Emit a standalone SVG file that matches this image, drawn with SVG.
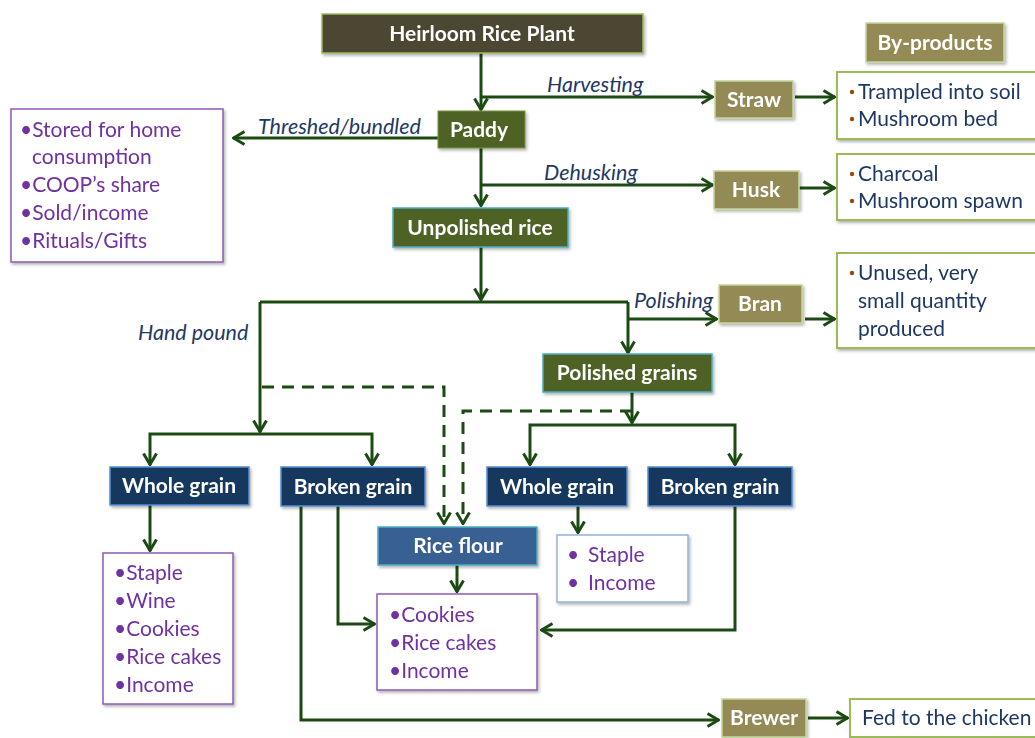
<svg xmlns="http://www.w3.org/2000/svg" width="1035" height="738" viewBox="0 0 1035 738">
<defs>
<marker id="ah" viewBox="0 0 14 16" refX="13" refY="8" markerWidth="14" markerHeight="16" markerUnits="userSpaceOnUse" orient="auto">
<path d="M1.5,1.5 L12.5,8 L1.5,14.5" fill="none" stroke="#1b4a12" stroke-width="3"/>
</marker>
<filter id="sh" x="-10%" y="-10%" width="130%" height="140%">
<feDropShadow dx="1.5" dy="2" stdDeviation="1.5" flood-color="#000" flood-opacity="0.3"/>
</filter>
</defs>
<style>
.c{fill:none;stroke:#1b4a12;stroke-width:3;marker-end:url(#ah)}
.cn{fill:none;stroke:#1b4a12;stroke-width:3}
.d{stroke-dasharray:12,8}
.n{filter:url(#sh)}
.brown{fill:#4b4631;stroke:#9bbb59;stroke-width:1.5}
.olive{fill:#4f6228;stroke:#77933c;stroke-width:1}
.olivet{fill:#4f6228;stroke:#4bacc6;stroke-width:1.5}
.khaki{fill:#948a54;stroke:#c3d69b;stroke-width:1.5}
.navy{fill:#17375e;stroke:#558ed5;stroke-width:1.5}
.flour{fill:#376092;stroke:#4bacc6;stroke-width:1.5}
.pbox{fill:#fff;stroke:#8e5bb5;stroke-width:1.5}
.gbox{fill:#fff;stroke:#9bbb59;stroke-width:2}
.bbox{fill:#fff;stroke:#95b3d7;stroke-width:1.5}
.lbl{font-family:Lato,"Liberation Sans",sans-serif;font-weight:bold;font-size:21px;fill:#fff;text-anchor:middle}
.it{font-family:Lato,"Liberation Sans",sans-serif;font-style:italic;font-size:21.5px;fill:#1f3864}
.pt{font-family:Lato,"Liberation Sans",sans-serif;font-size:21px;fill:#7030a0}
.bt{font-family:Lato,"Liberation Sans",sans-serif;font-size:21px;fill:#1f3864}
.bul{fill:#984807}
</style>

<g id="connectors">
<path class="c" d="M481,53 V110"/>
<path class="c" d="M481,97 H713"/>
<path class="c" d="M795,97 H835"/>
<path class="c" d="M438,138 H233"/>
<path class="c" d="M481,148 V206"/>
<path class="c" d="M481,185 H713"/>
<path class="c" d="M798,188 H835"/>
<path class="c" d="M481,247 V300"/>
<path class="cn" d="M260,302 H628"/>
<path class="c" d="M260,302 V432"/>
<path class="c" d="M628,302 V353"/>
<path class="c" d="M628,319 H717"/>
<path class="c" d="M805,319 H835"/>
<path class="c" d="M260,434 H150 V465"/>
<path class="c" d="M260,434 H372 V465"/>
<path class="c" d="M632,392 V423"/>
<path class="c" d="M632,425 H530 V465"/>
<path class="c" d="M632,425 H735 V465"/>
<path class="c d" d="M262,387 H444 V524"/>
<path class="c d" d="M632,411 H463 V524"/>
<path class="c" d="M150,505 V551"/>
<path class="c" d="M301,506 V720 H719"/>
<path class="c" d="M338,506 V624 H375"/>
<path class="c" d="M457,565 V592"/>
<path class="c" d="M578,506 V533"/>
<path class="c" d="M735,506 V630 H541"/>
<path class="c" d="M808,718 H848"/>
</g>

<g id="label-harvesting"><text class="it" x="547" y="92">Harvesting</text></g>
<g id="label-threshed"><text class="it" x="258" y="134">Threshed/bundled</text></g>
<g id="label-dehusking"><text class="it" x="544" y="180">Dehusking</text></g>
<g id="label-polishing"><text class="it" x="634" y="308">Polishing</text></g>
<g id="label-handpound"><text class="it" x="138" y="340">Hand pound</text></g>

<g id="plant" class="n"><rect class="brown" x="322" y="14" width="321" height="39"/><text class="lbl" x="482" y="41">Heirloom Rice Plant</text></g>
<g id="paddy" class="n"><rect class="olive" x="438" y="111" width="87" height="37"/><text class="lbl" x="479" y="137">Paddy</text></g>
<g id="byproducts" class="n"><rect class="khaki" x="866" y="23" width="138" height="39"/><text class="lbl" x="935" y="50">By-products</text></g>
<g id="straw" class="n"><rect class="khaki" x="715" y="81" width="78" height="37"/><text class="lbl" x="754" y="107">Straw</text></g>
<g id="husk" class="n"><rect class="khaki" x="714" y="171" width="85" height="38"/><text class="lbl" x="756" y="197">Husk</text></g>
<g id="bran" class="n"><rect class="khaki" x="719" y="285" width="83" height="38"/><text class="lbl" x="760" y="311">Bran</text></g>
<g id="unpolished" class="n"><rect class="olivet" x="393" y="208" width="175" height="39"/><text class="lbl" x="480" y="235">Unpolished rice</text></g>
<g id="polished" class="n"><rect class="olivet" x="543" y="354" width="169" height="38"/><text class="lbl" x="627" y="380">Polished grains</text></g>
<g id="whole1" class="n"><rect class="navy" x="110" y="467" width="139" height="38"/><text class="lbl" x="179" y="493">Whole grain</text></g>
<g id="broken1" class="n"><rect class="navy" x="281" y="467" width="144" height="39"/><text class="lbl" x="353" y="494">Broken grain</text></g>
<g id="whole2" class="n"><rect class="navy" x="487" y="467" width="140" height="39"/><text class="lbl" x="557" y="494">Whole grain</text></g>
<g id="broken2" class="n"><rect class="navy" x="648" y="467" width="144" height="39"/><text class="lbl" x="720" y="494">Broken grain</text></g>
<g id="riceflour" class="n"><rect class="flour" x="378" y="527" width="159" height="38"/><text class="lbl" x="458" y="553">Rice flour</text></g>
<g id="brewer" class="n"><rect class="khaki" x="722" y="699" width="84" height="38"/><text class="lbl" x="764" y="725">Brewer</text></g>

<g id="paddy-uses" class="n"><rect class="pbox" x="11" y="109" width="212" height="153"/>
<g class="pt"><text x="20" y="137">•Stored for home</text><text x="32" y="164">consumption</text><text x="20" y="192">•COOP’s share</text><text x="20" y="220">•Sold/income</text><text x="20" y="248">•Rituals/Gifts</text></g></g>

<g id="straw-uses" class="n"><rect class="gbox" x="837" y="72" width="200" height="67"/>
<g class="bt"><text x="858" y="99">Trampled into soil</text><text x="858" y="126">Mushroom bed</text></g>
<circle class="bul" cx="852" cy="92" r="2.2"/><circle class="bul" cx="852" cy="119" r="2.2"/></g>

<g id="husk-uses" class="n"><rect class="gbox" x="837" y="154" width="200" height="66"/>
<g class="bt"><text x="858" y="181">Charcoal</text><text x="858" y="208">Mushroom spawn</text></g>
<circle class="bul" cx="852" cy="174" r="2.2"/><circle class="bul" cx="852" cy="201" r="2.2"/></g>

<g id="bran-uses" class="n"><rect class="gbox" x="837" y="253" width="200" height="95"/>
<g class="bt"><text x="858" y="280">Unused, very</text><text x="858" y="308">small quantity</text><text x="858" y="336">produced</text></g>
<circle class="bul" cx="852" cy="273" r="2.2"/></g>

<g id="whole1-uses" class="n"><rect class="pbox" x="103" y="553" width="130" height="151"/>
<g class="pt"><text x="114" y="580">•Staple</text><text x="114" y="608">•Wine</text><text x="114" y="636">•Cookies</text><text x="114" y="664">•Rice cakes</text><text x="114" y="692">•Income</text></g></g>

<g id="flour-uses" class="n"><rect class="pbox" x="377" y="594" width="160" height="96"/>
<g class="pt"><text x="389" y="622">•Cookies</text><text x="389" y="650">•Rice cakes</text><text x="389" y="678">•Income</text></g></g>

<g id="whole2-uses" class="n"><rect class="bbox" x="557" y="535" width="131" height="67"/>
<g class="pt"><text x="567" y="562">•</text><text x="588" y="562">Staple</text><text x="567" y="590">•</text><text x="588" y="590">Income</text></g></g>

<g id="brewer-uses" class="n"><rect class="gbox" x="850" y="699" width="187" height="38"/>
<text class="bt" x="862" y="725">Fed to the chicken</text></g>
</svg>
